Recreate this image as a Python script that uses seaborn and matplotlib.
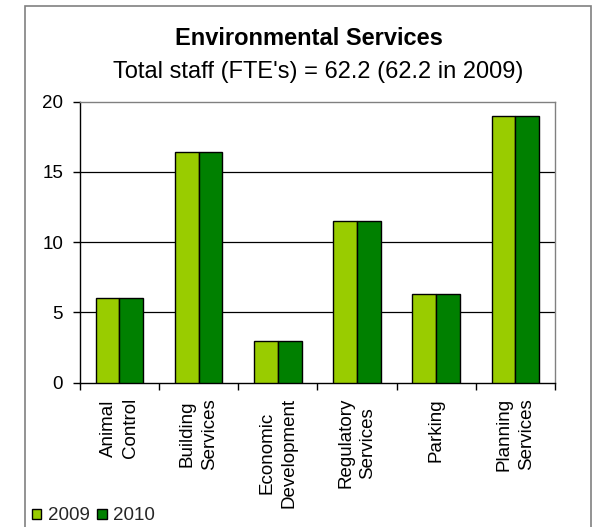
import numpy as np
import pandas as pd
import matplotlib
matplotlib.use("Agg")
import matplotlib.pyplot as plt
from matplotlib.patches import Rectangle, Patch
import seaborn as sns

# Staff (FTE) per service area
categories = ["Animal\nControl", "Building\nServices", "Economic\nDevelopment",
              "Regulatory\nServices", "Parking", "Planning\nServices"]
fte_2009 = [6.0, 16.4, 3.0, 11.5, 6.3, 19.0]
fte_2010 = [6.0, 16.4, 3.0, 11.5, 6.3, 19.0]
years = ["2009", "2010"]
yticks = [0, 5, 10, 15, 20]

df = pd.DataFrame({
    "service": categories * 2,
    "year": [years[0]] * len(categories) + [years[1]] * len(categories),
    "fte": fte_2009 + fte_2010,
})

sns.set_theme(style="white")
plt.rcParams["font.family"] = ["Liberation Sans", "DejaVu Sans"]

W, H = 594, 527
fig = plt.figure(figsize=(W / 100, H / 100), dpi=100)
ax = fig.add_axes([79.7 / W, 1 - 382.7 / H, (555 - 79.7) / W, (382.7 - 101.7) / H])

palette = {"2009": "#99CC00", "2010": "#008000"}
sns.barplot(data=df, x="service", y="fte", hue="year", order=categories,
            hue_order=years, palette=palette, width=0.6, gap=0,
            edgecolor="black", linewidth=1.0, saturation=1, legend=False,
            ax=ax, zorder=3)

ax.set_xlim(-0.5, len(categories) - 0.5)
ax.set_ylim(0, 20)
ax.set_xlabel("")
ax.set_ylabel("")

# horizontal gridlines
for v in yticks[1:-1]:
    ax.axhline(v, color="black", lw=0.9, zorder=1)

# frame: black left/bottom, grey top/right
for s in ["left", "bottom"]:
    ax.spines[s].set_color("black")
    ax.spines[s].set_linewidth(1.0)
for s in ["top", "right"]:
    ax.spines[s].set_color("#808080")
    ax.spines[s].set_linewidth(1.0)

small = 13.5
ax.set_yticks(yticks)
ax.set_yticklabels([str(v) for v in yticks], fontsize=small, color="black")
ax.tick_params(axis="y", which="major", left=True, length=5, width=1,
               color="black", pad=7, direction="out")

# ticks on category boundaries, labels at category centres
ax.set_xticks(np.arange(-0.5, len(categories), 1.0))
ax.set_xticklabels([])
ax.tick_params(axis="x", which="major", bottom=True, length=5, width=1,
               color="black", direction="out")
ax.set_xticks(np.arange(len(categories)), minor=True)
ax.set_xticklabels(categories, minor=True, rotation=90, ha="center",
                   va="top", multialignment="center", fontsize=small,
                   color="black", linespacing=1.4)
ax.tick_params(axis="x", which="minor", length=0, pad=11)

# titles
fig.text(309 / W, 1 - 45 / H, "Environmental Services", ha="center",
         va="baseline", fontsize=17, fontweight="bold", color="black")
fig.text(318 / W, 1 - 78 / H, "Total staff (FTE's) = 62.2 (62.2 in 2009)",
         ha="center", va="baseline", fontsize=17, color="black")

# legend
handles = [Patch(facecolor=palette[y], edgecolor="black", linewidth=1.0, label=y)
           for y in years]
fig.legend(handles=handles, loc="center left", bbox_to_anchor=(32 / W, 1 - 516 / H),
           ncol=2, frameon=False, fontsize=small, handlelength=0.5,
           handleheight=0.5, handletextpad=0.35, columnspacing=0.4,
           borderpad=0, borderaxespad=0)

# outer chart border
fig.patches.append(Rectangle((25 / W, -0.05), (591 - 25) / W, 1.05 - 5.5 / H,
                             transform=fig.transFigure, fill=False,
                             edgecolor="#808080", linewidth=1.2))

fig.savefig("out.png", dpi=100, facecolor="white")
